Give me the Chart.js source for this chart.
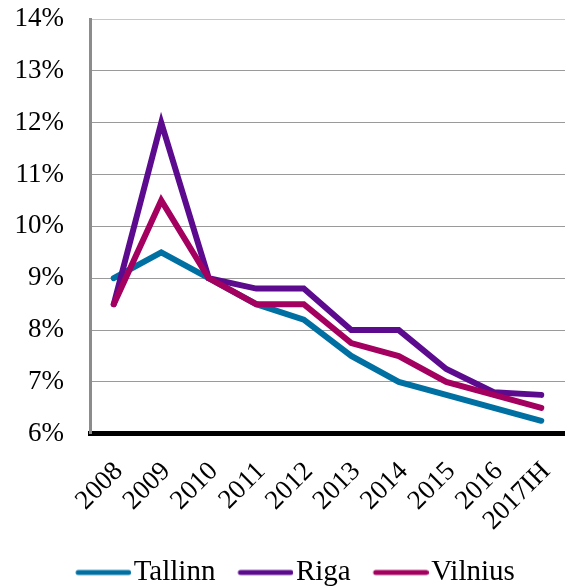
<!DOCTYPE html>
<html>
<head>
<meta charset="utf-8">
<script src="https://cdn.jsdelivr.net/npm/chart.js@4"></script>
<style>
  html, body { margin: 0; padding: 0; background: #fff; }
</style>
</head>
<body>
<canvas id="rates-chart" width="565" height="587"></canvas>
<script>
// Yields by city, percent
const years = ['2008', '2009', '2010', '2011', '2012', '2013', '2014', '2015', '2016', '2017IH'];
const tallinn = [9.0, 9.5, 9.0, 8.5, 8.2, 7.5, 7.0, 6.75, 6.5, 6.25];
const riga = [8.5, 12.0, 9.0, 8.8, 8.8, 8.0, 8.0, 7.25, 6.8, 6.75];
const vilnius = [8.5, 10.5, 9.0, 8.5, 8.5, 7.75, 7.5, 7.0, 6.75, 6.5];
const yMin = 6;
const yMax = 14;

const serif = 'Liberation Serif';

// legend swatch: short line sitting close to the label text
function swatch(color) {
    const c = document.createElement('canvas');
    c.width = 68;
    c.height = 8;
    const g = c.getContext('2d');
    g.strokeStyle = color;
    g.lineWidth = 5;
    g.lineCap = 'round';
    g.beginPath();
    g.moveTo(15, 4);
    g.lineTo(65.5, 4);
    g.stroke();
    return c;
}

function line(label, data, color, order) {
    return {
        label: label,
        data: data,
        borderColor: color,
        backgroundColor: color,
        borderWidth: 6,
        borderCapStyle: 'round',
        borderJoinStyle: 'miter',
        pointRadius: 0,
        pointStyle: swatch(color),
        tension: 0,
        order: order
    };
}

// legend sits a little right of the canvas centre
const legendNudge = {
    id: 'legendNudge',
    afterLayout: function(chart) {
        chart.legend.left += 10;
        chart.legend.right += 10;
    }
};

const ctx = document.getElementById('rates-chart').getContext('2d');
new Chart(ctx, {
    type: 'line',
    data: {
        labels: years,
        datasets: [
            line('Tallinn', tallinn, '#0070a3', 2),
            line('Riga', riga, '#5c0b8e', 1),
            line('Vilnius', vilnius, '#a3005f', 0)
        ]
    },
    plugins: [legendNudge],
    options: {
        responsive: false,
        animation: false,
        layout: { padding: { left: 0, right: -5, top: 0, bottom: -10 } },
        plugins: {
            tooltip: { enabled: false },
            legend: {
                position: 'bottom',
                labels: {
                    usePointStyle: true,
                    pointStyleWidth: 44,
                    color: '#000',
                    padding: 22,
                    font: { family: serif, size: 29 },
                    sort: function(a, b) { return a.datasetIndex - b.datasetIndex; }
                }
            }
        },
        scales: {
            x: {
                offset: true,
                grid: { display: false },
                border: { display: true, color: '#000', width: 5 },
                afterFit: function(scale) {
                    scale.height -= 15;
                    scale.paddingLeft = 0;
                    scale.paddingRight = 0;
                },
                ticks: {
                    autoSkip: false,
                    minRotation: 45,
                    maxRotation: 45,
                    padding: 14,
                    labelOffset: 5,
                    color: '#000',
                    font: { family: serif, size: 27 }
                }
            },
            y: {
                min: yMin,
                max: yMax,
                // fixed axis width; keep the label gap out of the top/bottom padding
                afterFit: function(scale) {
                    scale.width = 90;
                    scale.paddingTop = 19;
                    scale.paddingBottom = 0;
                },
                grid: {
                    drawTicks: false,
                    lineWidth: 1,
                    color: function(c) { return c.tick && c.tick.value === yMax ? '#c8c8c8' : '#9a9a9a'; }
                },
                border: { display: true, color: '#8c8c8c', width: 3 },
                ticks: {
                    stepSize: 1,
                    padding: 26,
                    color: '#000',
                    font: { family: serif, size: 27 },
                    callback: function(v) { return v + '%'; }
                }
            }
        }
    }
});
</script>
</body>
</html>
